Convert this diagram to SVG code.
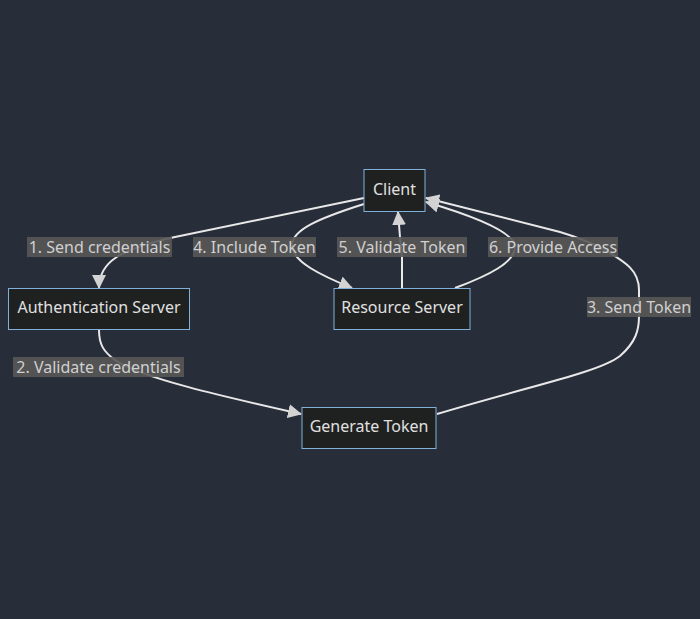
<svg xmlns="http://www.w3.org/2000/svg" width="700" height="619" viewBox="0 0 700 619">
<defs>
<marker id="arrow" viewBox="0 0 14 14" refX="13" refY="7" markerWidth="14" markerHeight="14" markerUnits="userSpaceOnUse" orient="auto">
<path d="M0,0 L14,7 L0,14 z" fill="#d3d3d3"/>
</marker>
<style>
.node rect{fill:#1f2020;stroke:#81b1db;stroke-width:1}
.node text{fill:#e0e0e0;font-family:"Noto Sans","Open Sans",sans-serif;font-size:16px;text-anchor:middle;dominant-baseline:central}
.edge{fill:none;stroke:#e8e8e8;stroke-width:2}
.lbl rect{fill:#585858;opacity:0.9}
.lbl text{fill:#d0d0d0;font-family:"Noto Sans","Open Sans",sans-serif;font-size:16px;text-anchor:middle;dominant-baseline:central}
</style>
</defs>
<rect width="700" height="619" fill="#282d3a"/>
<g id="connectors">
<path class="edge" d="M364,198 L175,237 C120,249 99,262 99,288" marker-end="url(#arrow)"/>
<path class="edge" d="M99,330 C99,345 104,352 115,360 C140,378 230,398 301,414" marker-end="url(#arrow)"/>
<path class="edge" d="M437,414 C530,386 600,372 620,356 C636,342 639,330 639,316 L639,290 C639,270 625,262 605,250 C590,242 580,238 560,232 L426,198" marker-end="url(#arrow)"/>
<path class="edge" d="M364,204 C320,218 290,230 292,247 C294,262 320,275 352,288" marker-end="url(#arrow)"/>
<path class="edge" d="M402,288 L402,257 L400,237 L398,212" marker-end="url(#arrow)"/>
<path class="edge" d="M455,288 C490,275 515,262 515,247 C515,232 470,215 426,202" marker-end="url(#arrow)"/>
</g>
<g id="labels">
<g class="lbl"><rect x="27" y="237" width="145" height="20"/><text x="99.5" y="247">1. Send credentials</text></g>
<g class="lbl"><rect x="13" y="357" width="171" height="20"/><text x="98.5" y="367">2. Validate credentials</text></g>
<g class="lbl"><rect x="587" y="297" width="104" height="20"/><text x="639" y="307">3. Send Token</text></g>
<g class="lbl"><rect x="193" y="237" width="123" height="20"/><text x="254.5" y="247">4. Include Token</text></g>
<g class="lbl"><rect x="337" y="237" width="130" height="20"/><text x="402" y="247">5. Validate Token</text></g>
<g class="lbl"><rect x="488" y="237" width="130" height="20"/><text x="553" y="247">6. Provide Access</text></g>
</g>
<g id="client" class="node"><rect x="364" y="169.5" width="61" height="42"/><text x="394.5" y="189">Client</text></g>
<g id="auth" class="node"><rect x="8.5" y="288.5" width="181" height="41"/><text x="99" y="307">Authentication Server</text></g>
<g id="resource" class="node"><rect x="334" y="288.5" width="136" height="41"/><text x="402" y="307">Resource Server</text></g>
<g id="generate" class="node"><rect x="302" y="407.5" width="134" height="41"/><text x="369" y="426">Generate Token</text></g>
</svg>
